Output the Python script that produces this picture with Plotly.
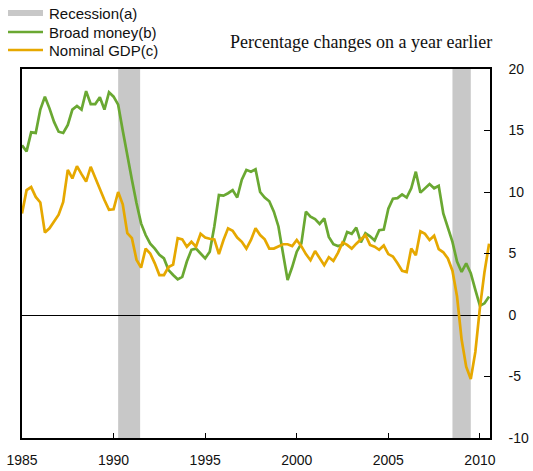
import plotly.graph_objects as go

# Quarterly observations, 1985 Q1 onwards
start_year = 1985
broad_money = [
    13.8, 13.3, 14.85, 14.8, 16.7, 17.75, 16.8, 15.7, 14.9, 14.8,
    15.45, 16.7, 17.0, 16.7, 18.2, 17.15, 17.15, 17.7, 16.7, 18.1,
    17.75, 17.1, 15.0, 12.9, 11.0, 9.1, 7.45, 6.5, 5.8, 5.4,
    4.9, 4.6, 3.65, 3.25, 2.9, 3.1, 4.35, 5.3, 5.4, 5.0,
    4.6, 5.15, 7.2, 9.75, 9.7, 9.9, 10.15, 9.55, 11.0, 11.8,
    11.65, 11.85, 10.0, 9.55, 9.25, 8.4, 7.2, 5.0, 2.85, 3.9,
    5.15, 5.8, 8.4, 8.0, 7.8, 7.4, 7.85, 6.35, 5.75, 5.6,
    5.7, 6.75, 6.6, 7.1, 5.9, 6.65, 6.4, 6.05, 6.9, 6.95,
    8.65, 9.45, 9.5, 9.8, 9.55, 10.3, 11.65, 9.95, 10.3, 10.65,
    10.3, 10.5, 8.25, 7.05, 5.95, 4.35, 3.5, 4.2, 3.4, 2.05,
    0.75, 0.95, 1.5,
]
nominal_gdp = [
    8.25, 10.15, 10.4, 9.6, 9.15, 6.7, 7.05, 7.6, 8.15, 9.2,
    11.8, 11.1, 12.1, 11.45, 10.85, 12.05, 11.1, 10.3, 9.35, 8.55,
    8.6, 10.0, 9.0, 6.65, 6.25, 4.5, 3.85, 5.4, 5.0, 4.2,
    3.25, 3.25, 3.9, 4.1, 6.25, 6.15, 5.55, 5.95, 5.55, 6.6,
    6.3, 6.2, 6.15, 4.95, 6.1, 7.05, 6.85, 6.3, 5.95, 5.4,
    6.1, 7.05, 6.5, 6.15, 5.4, 5.4, 5.55, 5.75, 5.75, 5.6,
    6.1, 5.6, 4.95, 4.45, 5.2, 4.6, 4.05, 4.7, 4.4, 5.05,
    5.9, 5.7, 5.4, 5.8, 6.15, 6.5, 5.7, 5.55, 5.3, 5.65,
    4.95, 4.75, 4.2, 3.6, 3.5, 5.4, 4.85, 6.8, 6.6, 6.1,
    6.45, 5.35, 5.1, 4.6, 3.6, 1.5, -2.0, -4.2, -5.2, -3.0,
    0.6, 3.5, 5.8,
]
recession_starts = [1990.25, 2008.5]
recession_ends = [1991.45, 2009.5]
x_ticks = [1985, 1990, 1995, 2000, 2005, 2010]
y_ticks = [-10, -5, 0, 5, 10, 15, 20]
y_tick_labels = ["-10", "-5", "0", "5", "10", "15", "20"]
legend_names = ["Recession(a)", "Broad money(b)", "Nominal GDP(c)"]

dates = [start_year + 0.25 * i for i in range(len(broad_money))]

green = "#6AA832"
orange = "#E6A800"
band = "#C8C8C8"

W, H = 533, 471
ML, MR, MT, MB = 22, 43, 69, 33
PW, PH = W - ML - MR, H - MT - MB


def px_x(px):
    return (px - ML) / PW


def px_y(py):
    return (H - MB - py) / PH


fig = go.Figure()
fig.add_trace(go.Scatter(x=dates, y=broad_money, mode="lines", name=legend_names[1],
                         line=dict(color=green, width=2.7), showlegend=False))
fig.add_trace(go.Scatter(x=dates, y=nominal_gdp, mode="lines", name=legend_names[2],
                         line=dict(color=orange, width=2.7), showlegend=False))

for s, e in zip(recession_starts, recession_ends):
    fig.add_shape(type="rect", xref="x", yref="paper", x0=s, x1=e, y0=0, y1=1,
                  fillcolor=band, line=dict(width=0), layer="below")

# Hand-built legend (top-left)
legend_styles = [(band, 6), (green, 2.5), (orange, 2.5)]
legend_rows = [13, 32, 50]
for name, (col, wd), row in zip(legend_names, legend_styles, legend_rows):
    fig.add_shape(type="line", xref="paper", yref="paper",
                  x0=px_x(8), x1=px_x(43), y0=px_y(row), y1=px_y(row),
                  line=dict(color=col, width=wd))
    fig.add_annotation(text=name, xref="paper", yref="paper", x=px_x(47), y=px_y(row),
                       xanchor="left", yanchor="middle", showarrow=False,
                       font=dict(family="Liberation Sans", size=15, color="#111"))

fig.add_annotation(text="Percentage changes on a year earlier", xref="paper", yref="paper",
                   x=px_x(494), y=px_y(42), xanchor="right", yanchor="middle", showarrow=False,
                   font=dict(family="Liberation Serif", size=18, color="#111"))

fig.update_layout(
    width=W, height=H,
    margin=dict(l=ML, r=MR, t=MT, b=MB, autoexpand=False),
    paper_bgcolor="white", plot_bgcolor="white",
    font=dict(family="Liberation Sans", size=14, color="#111"),
    showlegend=False,
    xaxis=dict(range=[1985, 2010.55], tickvals=x_ticks, ticks="inside", ticklen=5,
               tickcolor="black", showline=True, linecolor="black", linewidth=1.5,
               mirror=True, showgrid=False, zeroline=False, ticklabelstandoff=8),
    yaxis=dict(range=[-10, 20], tickvals=y_ticks, ticktext=y_tick_labels, side="right",
               ticks="inside", ticklen=6,
               tickcolor="black", showline=True, linecolor="black", linewidth=1.5,
               mirror=True, showgrid=False, zeroline=True, zerolinecolor="black",
               zerolinewidth=1, ticklabelstandoff=14),
)

fig.write_html("out.html", config={"displayModeBar": False})

# remove the default page margin so the figure sits at the window's top-left corner
with open("out.html", encoding="utf-8") as f:
    html = f.read()
html = html.replace("<head>", "<head><style>html,body{margin:0;padding:0;overflow:hidden;}</style>", 1)
with open("out.html", "w", encoding="utf-8") as f:
    f.write(html)
